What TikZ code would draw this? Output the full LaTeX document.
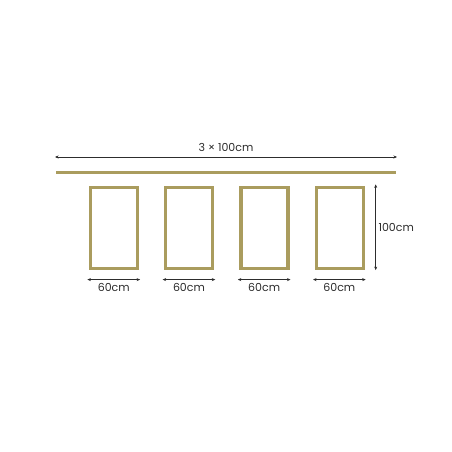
\documentclass[tikz,border=0pt]{standalone}
\usepackage{fontspec}
\setmainfont{Poppins}
\usetikzlibrary{positioning,calc,arrows.meta}
\definecolor{brass}{RGB}{170,156,94}
\definecolor{dimgray}{RGB}{45,45,45}

\begin{document}
\begin{tikzpicture}[x=1pt,y=-1pt,node distance=25pt,
frame/.style={shape=rectangle,draw=brass,line width=3.2pt,minimum width=47pt,minimum height=81pt,inner sep=0},
dimline/.style={draw=dimgray,line width=0.6pt,{Stealth[length=3.5pt,width=3pt]}-{Stealth[length=3.5pt,width=3pt]}},
lbl/.style={font=\fontsize{11}{13}\selectfont,text=dimgray,inner sep=1pt}]

\useasboundingbox[fill=white] (0,0) rectangle (452,452);

% rod and its length
\coordinate (rodL) at (56,172);
\coordinate (rodR) at (396,172);
\path[draw=brass,line width=3pt] (rodL) -- (rodR);
\coordinate (topL) at (55,157);
\coordinate (topR) at (397,157);
\path[dimline] (topL) -- node[lbl,above=4pt] (toplbl){3 × 100cm} (topR);

% frames
\node[frame] at (114,228) (f1){};
\node[frame,right=of f1] (f2){};
\node[frame,right=of f2] (f3){};
\node[frame,right=of f3] (f4){};

% widths
\foreach \f in {f1,f2,f3,f4}{
  \coordinate (\f wl) at ($(\f.south west)+(-1.5,9.5)$);
  \coordinate (\f wr) at ($(\f.south east)+(1,9.5)$);
  \path[dimline] (\f wl) -- node[lbl,below=2pt] (\f lbl){60cm} (\f wr);
}

% height
\coordinate (hT) at ($(f4.north east)+(11,-1.5)$);
\coordinate (hB) at ($(f4.south east)+(11,0)$);
\path[dimline] (hT) -- node[lbl,right=1.5pt] (hlbl){100cm} (hB);

\end{tikzpicture}
\end{document}
